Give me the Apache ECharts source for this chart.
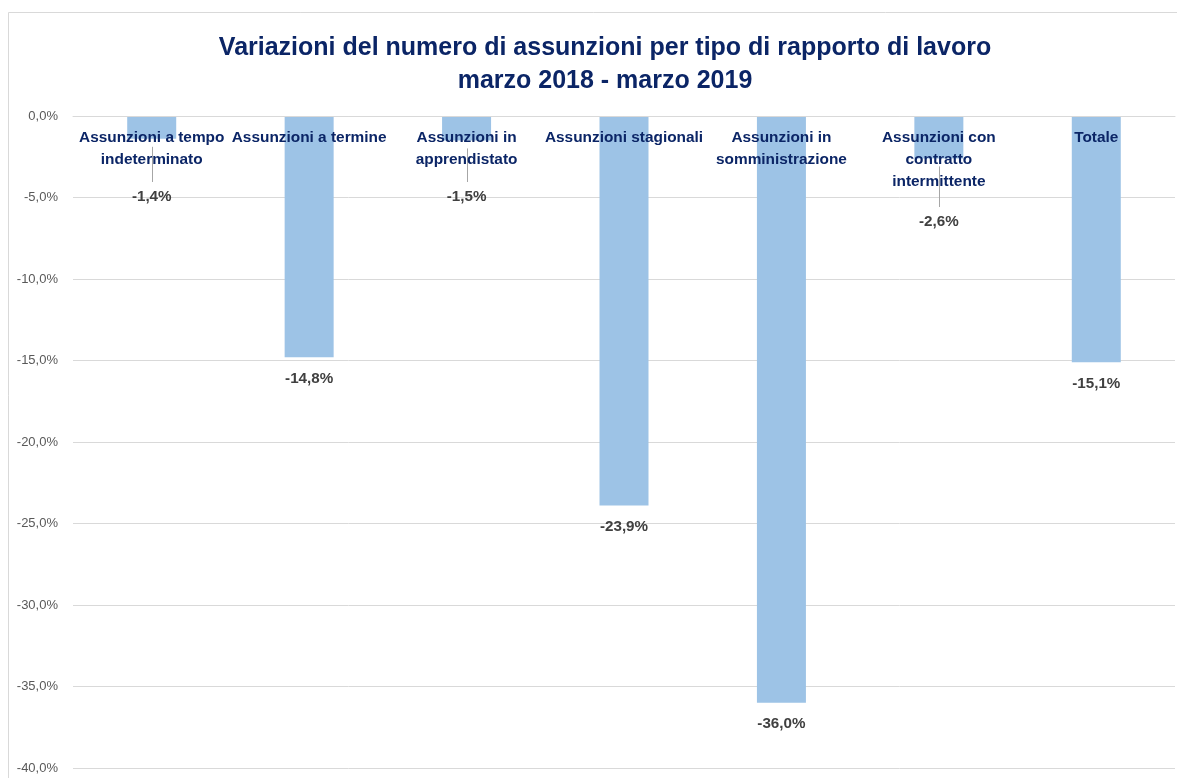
<!DOCTYPE html>
<html>
<head>
<meta charset="utf-8">
<script src="https://cdn.jsdelivr.net/npm/echarts@6/dist/echarts.min.js"></script>
<style>html,body{margin:0;padding:0;background:#fff}#c{width:1177px;height:778px}</style>
</head>
<body>
<div id="c"></div>
<script>
const titleText = 'Variazioni del numero di assunzioni per tipo di rapporto di lavoro\nmarzo 2018 - marzo 2019';
const categories = [
  'Assunzioni a tempo\nindeterminato',
  'Assunzioni a termine',
  'Assunzioni in\napprendistato',
  'Assunzioni stagionali',
  'Assunzioni in\nsomministrazione',
  'Assunzioni con\ncontratto\nintermittente',
  'Totale'
];
const values = [-1.4, -14.8, -1.5, -23.9, -36.0, -2.6, -15.1];
const yMin = -40, yMax = 0, yStep = 5;

const GRID_TOP = 116, LINE_H = 22, LABEL_MARGIN = 11, LABEL_DIST = 14;
const NAVY = '#0b2566';
const fontFam = '"Liberation Sans", Arial, sans-serif';

function fmt(v) {
  if (Math.abs(v) < 1e-9) v = 0;
  return v.toFixed(1).replace('.', ',') + '%';
}
function minLabelCenter(i) {
  const n = categories[i].split('\n').length;
  return GRID_TOP + LABEL_MARGIN + n * LINE_H + 26 + (n - 2) * 3;
}

const frame = {
  type: 'rect', silent: true, z: -10,
  shape: {x: 8.5, y: 12.5, width: 1300, height: 900},
  style: {fill: 'none', stroke: '#d9d9d9', lineWidth: 1}
};

const chart = echarts.init(document.getElementById('c'), null, {renderer: 'canvas'});
chart.setOption({
  animation: false,
  backgroundColor: '#fff',
  title: {
    text: titleText,
    left: 600,
    top: 27,
    textAlign: 'center',
    textStyle: {fontFamily: fontFam, fontWeight: 'bold', fontSize: 25, lineHeight: 33, color: NAVY}
  },
  grid: {left: 73, right: 2, top: GRID_TOP, bottom: 10, containLabel: false},
  xAxis: {
    type: 'category',
    data: categories,
    position: 'top',
    axisLine: {show: true, lineStyle: {color: '#d9d9d9', width: 1}},
    axisTick: {show: false},
    axisLabel: {
      inside: true, interval: 0, margin: LABEL_MARGIN,
      fontFamily: fontFam, fontWeight: 'bold', fontSize: 15.4, lineHeight: LINE_H, color: NAVY
    },
    z: 5
  },
  yAxis: {
    type: 'value', min: yMin, max: yMax, interval: yStep,
    axisLine: {show: false}, axisTick: {show: false},
    splitLine: {lineStyle: {color: '#d9d9d9', width: 1}},
    axisLabel: {formatter: fmt, fontFamily: fontFam, fontSize: 13, color: '#595959', margin: 15}
  },
  series: [{
    type: 'bar',
    data: values,
    barWidth: 49,
    itemStyle: {color: '#9dc3e6'},
    label: {
      show: true, position: 'bottom', distance: LABEL_DIST,
      formatter: p => fmt(p.value),
      fontFamily: fontFam, fontWeight: 'bold', fontSize: 15.2, color: '#404040'
    },
    labelLayout: function (p) {
      const r = p.labelRect;
      const c = r.y + r.height / 2;
      const target = minLabelCenter(p.dataIndex);
      return {
        x: r.x + r.width / 2,
        y: Math.max(c, target),
        align: 'center',
        verticalAlign: 'middle'
      };
    }
  }],
  graphic: [frame]
});

// leader lines for labels pushed below the category text
const lines = [];
values.forEach((v, i) => {
  const end = chart.convertToPixel({xAxisIndex: 0, yAxisIndex: 0}, [i, v]);
  const target = minLabelCenter(i);
  const natural = end[1] + LABEL_DIST + 9;
  if (natural < target) {
    lines.push({
      type: 'line', silent: true, z: 1,
      shape: {x1: Math.round(end[0]) + 0.5, y1: end[1] + 8, x2: Math.round(end[0]) + 0.5, y2: target - 15},
      style: {stroke: '#a6a6a6', lineWidth: 1}
    });
  }
});
chart.setOption({graphic: [frame].concat(lines)});
</script>
</body>
</html>
